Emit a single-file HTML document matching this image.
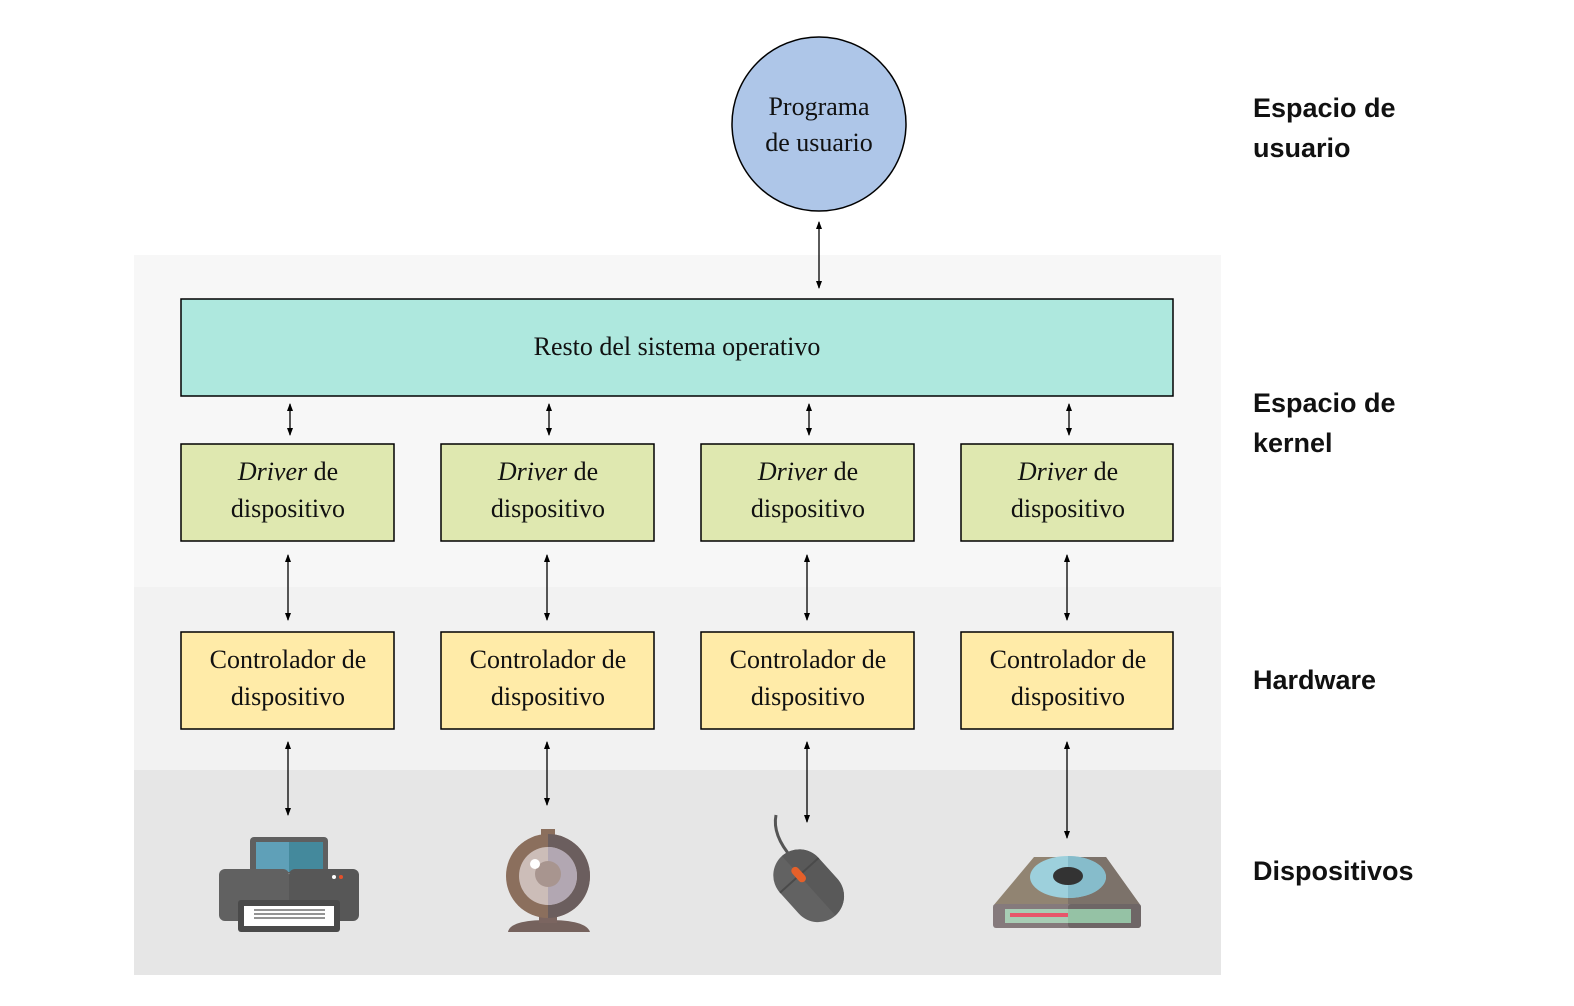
<!DOCTYPE html>
<html><head><meta charset="utf-8"><style>
body{margin:0;background:#fff;}
svg{display:block;}
.t{font-family:"Liberation Serif",serif;font-size:26px;fill:#111;text-anchor:middle;}
.l{font-family:"Liberation Sans",sans-serif;font-size:27px;font-weight:bold;fill:#111;}
</style></head><body>
<svg width="1574" height="1006" viewBox="0 0 1574 1006" xmlns="http://www.w3.org/2000/svg">
<defs>
<marker id="a" markerWidth="8" markerHeight="8" refX="7" refY="4" orient="auto-start-reverse" markerUnits="userSpaceOnUse">
<path d="M0,1 L8,4 L0,7 Z" fill="#000"/></marker>
</defs>
<rect x="134" y="255" width="1087" height="332" fill="#f7f7f7"/>
<rect x="134" y="587" width="1087" height="183" fill="#f2f2f2"/>
<rect x="134" y="770" width="1087" height="205" fill="#e6e6e6"/>

<circle cx="819" cy="124" r="87" fill="#aec6e8" stroke="#000" stroke-width="1.5"/>
<text class="t" x="819" y="115">Programa</text>
<text class="t" x="819" y="151">de usuario</text>

<rect x="181" y="299" width="992" height="97" fill="#aee8de" stroke="#000" stroke-width="1.5"/>
<text class="t" x="677" y="355">Resto del sistema operativo</text>

<g stroke="#000" stroke-width="1.3" marker-start="url(#a)" marker-end="url(#a)">
<line x1="819" y1="222" x2="819" y2="288"/>
<line x1="290" y1="404" x2="290" y2="435"/>
<line x1="549" y1="404" x2="549" y2="435"/>
<line x1="809" y1="404" x2="809" y2="435"/>
<line x1="1069" y1="404" x2="1069" y2="435"/>
<line x1="288" y1="555" x2="288" y2="620"/>
<line x1="547" y1="555" x2="547" y2="620"/>
<line x1="807" y1="555" x2="807" y2="620"/>
<line x1="1067" y1="555" x2="1067" y2="620"/>
<line x1="288" y1="742" x2="288" y2="815"/>
<line x1="547" y1="742" x2="547" y2="805"/>
<line x1="807" y1="742" x2="807" y2="822"/>
<line x1="1067" y1="742" x2="1067" y2="838"/>
</g>

<g stroke="#000" stroke-width="1.5">
<rect x="181" y="444" width="213" height="97" fill="#dfe8b0"/>
<rect x="441" y="444" width="213" height="97" fill="#dfe8b0"/>
<rect x="701" y="444" width="213" height="97" fill="#dfe8b0"/>
<rect x="961" y="444" width="212" height="97" fill="#dfe8b0"/>
<rect x="181" y="632" width="213" height="97" fill="#ffeba8"/>
<rect x="441" y="632" width="213" height="97" fill="#ffeba8"/>
<rect x="701" y="632" width="213" height="97" fill="#ffeba8"/>
<rect x="961" y="632" width="212" height="97" fill="#ffeba8"/>
</g>
<g class="t">
<text class="t" x="288" y="480"><tspan font-style="italic">Driver</tspan> de</text>
<text class="t" x="288" y="517">dispositivo</text>
<text class="t" x="548" y="480"><tspan font-style="italic">Driver</tspan> de</text>
<text class="t" x="548" y="517">dispositivo</text>
<text class="t" x="808" y="480"><tspan font-style="italic">Driver</tspan> de</text>
<text class="t" x="808" y="517">dispositivo</text>
<text class="t" x="1068" y="480"><tspan font-style="italic">Driver</tspan> de</text>
<text class="t" x="1068" y="517">dispositivo</text>
<text class="t" x="288" y="668">Controlador de</text>
<text class="t" x="288" y="705">dispositivo</text>
<text class="t" x="548" y="668">Controlador de</text>
<text class="t" x="548" y="705">dispositivo</text>
<text class="t" x="808" y="668">Controlador de</text>
<text class="t" x="808" y="705">dispositivo</text>
<text class="t" x="1068" y="668">Controlador de</text>
<text class="t" x="1068" y="705">dispositivo</text>
</g>

<text class="l" x="1253" y="117">Espacio de</text>
<text class="l" x="1253" y="157">usuario</text>
<text class="l" x="1253" y="412">Espacio de</text>
<text class="l" x="1253" y="452">kernel</text>
<text class="l" x="1253" y="689">Hardware</text>
<text class="l" x="1253" y="880">Dispositivos</text>

<!-- printer -->
<rect x="250" y="837" width="78" height="36" rx="4" fill="#5f5f5f"/>
<rect x="256" y="842" width="33" height="30" fill="#5fa0b8"/>
<rect x="289" y="842" width="34" height="30" fill="#44899c"/>
<rect x="219" y="869" width="70" height="52" rx="6" fill="#616161"/>
<rect x="289" y="869" width="70" height="52" rx="6" fill="#575757"/>
<circle cx="334" cy="877" r="2" fill="#fff"/><circle cx="341" cy="877" r="2" fill="#e5502a"/>
<rect x="238" y="900" width="102" height="32" rx="3" fill="#4a4a4a"/>
<rect x="244" y="906" width="90" height="20" fill="#fff"/>
<g stroke="#555" stroke-width="1.3"><line x1="254" y1="910" x2="325" y2="910"/><line x1="254" y1="914" x2="325" y2="914"/><line x1="254" y1="918" x2="325" y2="918"/></g>
<!-- webcam -->
<rect x="541" y="829" width="14" height="8" fill="#8b6f5d"/>
<path d="M508,932 Q510,920 548,920 Q586,920 590,932 Z" fill="#75625d"/>
<rect x="539" y="905" width="18" height="18" fill="#7b6560"/>
<circle cx="548" cy="876" r="42" fill="#8b6f5d"/>
<path d="M548,834 A42,42 0 0 1 548,918 Z" fill="#6b5e5e"/>
<circle cx="548" cy="876" r="29" fill="#ccbdb8"/>
<path d="M548,847 A29,29 0 0 1 548,905 Z" fill="#b2a7b2"/>
<circle cx="548" cy="874" r="13" fill="#a8958f"/>
<circle cx="535" cy="864" r="5" fill="#fff"/>
<!-- mouse -->
<path d="M776,815 Q772,835 792,858" stroke="#555" stroke-width="3" fill="none"/>
<g transform="rotate(-42 808 885)">
<rect x="782" y="846" width="52" height="80" rx="26" fill="#626262"/>
<path d="M808,846 A26,26 0 0 1 834,872 L834,900 A26,26 0 0 1 808,926 Z" fill="#595959"/>
<line x1="782" y1="872" x2="834" y2="872" stroke="#4a4a4a" stroke-width="2"/>
<rect x="804" y="862" width="8" height="18" rx="4" fill="#e5602a"/>
</g>
<!-- disk -->
<path d="M1034,857 L1106,857 L1141,906 L993,906 Z" fill="#918472"/>
<path d="M1068,857 L1106,857 L1141,906 L1068,906 Z" fill="#7c726a"/>
<rect x="993" y="904" width="148" height="24" rx="3" fill="#857a7c"/>
<rect x="1068" y="904" width="73" height="24" rx="3" fill="#6e6666"/>
<rect x="1005" y="909" width="126" height="14" fill="#a8cdb5"/>
<rect x="1068" y="909" width="63" height="14" fill="#95c2a5"/>
<rect x="1010" y="913" width="58" height="4" fill="#e8566a"/>
<ellipse cx="1068" cy="877" rx="38" ry="21" fill="#9dd0dc"/>
<path d="M1068,856 A38,21 0 0 1 1068,898 Z" fill="#86bccb"/>
<ellipse cx="1068" cy="876" rx="15" ry="9" fill="#333"/>
</svg>
</body></html>
